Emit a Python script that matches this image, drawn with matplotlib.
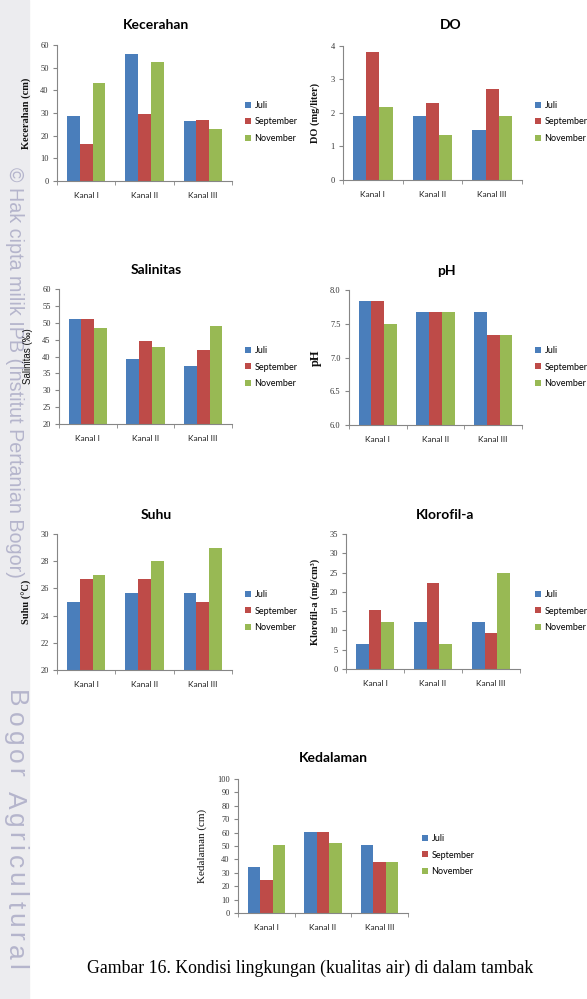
import matplotlib
matplotlib.use('Agg')
import matplotlib.pyplot as plt
from matplotlib.font_manager import FontProperties
import numpy as np

W, H = 587, 999

kanal = ['Kanal I', 'Kanal II', 'Kanal III']
bulan = ['Juli', 'September', 'November']
warna = ['#4a7ebb', '#be4b48', '#98b954']

# values per month (Juli, September, November) for Kanal I, II, III
kecerahan = [[28.7, 56.2, 26.3], [16.2, 29.4, 26.9], [43.2, 52.5, 23.1]]
do = [[1.91, 1.91, 1.49], [3.81, 2.31, 2.72], [2.18, 1.35, 1.91]]
salinitas = [[51.2, 39.2, 37.1], [51.2, 44.6, 41.9], [48.5, 42.9, 49.1]]
ph = [[7.84, 7.67, 7.67], [7.84, 7.67, 7.33], [7.50, 7.67, 7.33]]
suhu = [[25.0, 25.67, 25.67], [26.67, 26.67, 25.0], [27.0, 28.0, 29.0]]
klorofil = [[6.5, 12.1, 12.1], [15.2, 22.3, 9.4], [12.1, 6.6, 24.8]]
kedalaman = [[34.5, 60.3, 50.6], [24.3, 60.3, 37.7], [50.6, 52.4, 38.2]]

caption = 'Gambar 16. Kondisi lingkungan (kualitas air) di dalam tambak'

fig = plt.figure(figsize=(W / 100, H / 100), dpi=100)


def px_rect(x0, x1, y0, y1):
    return [x0 / W, 1 - y1 / H, (x1 - x0) / W, (y1 - y0) / H]


def draw_panel(rect, title, title_xy, data, ylim, step, ylabel, ylabel_px,
               legend_xy, decimals=0, lab_font='Liberation Serif', lab_size=7.5,
               lab_weight='bold'):
    x0, x1, y0, y1 = rect
    ax = fig.add_axes(px_rect(*rect))
    ax.set_zorder(2)
    ax.patch.set_alpha(0)
    x = np.arange(len(kanal))
    for i, (nama, vals) in enumerate(zip(bulan, data)):
        ax.bar(x + (i - 1) * 0.22, vals, width=0.22, color=warna[i], label=nama)
    ax.set_xlim(-0.5, 2.5)
    ax.set_ylim(*ylim)
    ticks = np.arange(ylim[0], ylim[1] + step / 2, step)
    ax.set_yticks(ticks)
    ax.set_yticklabels([f'{t:.{decimals}f}' for t in ticks],
                       fontfamily='Liberation Serif', fontsize=6, color='#333333')
    ax.set_xticks(x)
    ax.set_xticklabels(kanal, fontfamily='Lato', fontsize=6, color='#222222')
    ax.set_xticks([-0.5, 0.5, 1.5, 2.5], minor=True)
    ax.tick_params(axis='x', which='major', length=0, pad=8)
    ax.tick_params(axis='x', which='minor', length=3, color='#868686', direction='out')
    ax.tick_params(axis='y', length=3, color='#868686', direction='out', pad=3)
    for s in ['top', 'right']:
        ax.spines[s].set_visible(False)
    for s in ['left', 'bottom']:
        ax.spines[s].set_color('#868686')
        ax.spines[s].set_linewidth(0.8)
    ax.set_ylabel(ylabel, fontfamily=lab_font, fontsize=lab_size,
                  fontweight=lab_weight, color='#111111')
    ax.yaxis.set_label_coords((ylabel_px - x0) / (x1 - x0), 0.5)
    fig.text(title_xy[0] / W, 1 - title_xy[1] / H, title, fontfamily='Lato',
             fontweight='bold', fontsize=10, ha='center', va='center')
    ax.legend(loc='center left', bbox_to_anchor=(legend_xy[0] / W, 1 - legend_xy[1] / H),
              bbox_transform=fig.transFigure, frameon=False,
              prop={'family': 'Lato', 'size': 6.5},
              handlelength=0.65, handleheight=0.65, handletextpad=0.4,
              labelspacing=0.85, borderpad=0, borderaxespad=0)
    return ax


draw_panel((57, 232, 45, 181), 'Kecerahan', (156, 25), kecerahan, (0, 60), 10,
           'Kecerahan (cm)', 31, (245, 122))
draw_panel((343, 522, 46, 180), 'DO', (451, 25), do, (0, 4), 1,
           'DO (mg/liter)', 320, (535, 122))
draw_panel((59, 232, 289, 424), 'Salinitas', (156, 270), salinitas, (20, 60), 5,
           'Salinitas (‰)', 33, (245, 367), lab_font='Liberation Sans',
           lab_size=7, lab_weight='normal')
draw_panel((349, 522, 290, 425), 'pH', (446, 271), ph, (6, 8), 0.5,
           'pH', 322, (535, 367), decimals=1, lab_size=9)
draw_panel((57, 232, 534, 670), 'Suhu', (156, 515), suhu, (20, 30), 2,
           'Suhu (°C)', 32, (245, 611))
draw_panel((346, 520, 534, 669), 'Klorofil-a', (445, 515), klorofil, (0, 35), 5,
           'Klorofil-a (mg/cm³)', 320, (535, 611))
draw_panel((238, 408, 779, 913), 'Kedalaman', (333, 758), kedalaman, (0, 100), 10,
           'Kedalaman (cm)', 207, (422, 855), lab_size=8, lab_weight='normal')

# watermark strip on the left
fig.patches.append(plt.Rectangle((0, 0), 29 / W, 1, transform=fig.transFigure,
                                 color='#ececef', zorder=-10))
fig.text(14 / W, 1 - 372 / H, '\u00a9 Hak cipta milik IPB (Institut Pertanian Bogor)',
         rotation=270, fontfamily='Liberation Sans', fontsize=14.2, color='#b5b5cc',
         ha='center', va='center', zorder=-5)

# "Bogor Agricultural" with some letter spacing
wm = 'Bogor Agricultural'
renderer = fig.canvas.get_renderer()
fp = FontProperties(family='Liberation Sans', size=19)
pos = 690
for ch in wm:
    w = renderer.get_text_width_height_descent(ch if ch != ' ' else 'i', fp, ismath=False)[0]
    if ch != ' ':
        fig.text(15 / W, 1 - pos / H, ch, rotation=270, fontproperties=fp,
                 color='#b5b5cc', ha='center', va='top', zorder=-5)
    pos += w + 4.2

fig.text(310 / W, 1 - 968 / H, caption, fontfamily='Liberation Serif', fontsize=12.8,
         ha='center', va='center')

fig.savefig('out.png', dpi=100)
